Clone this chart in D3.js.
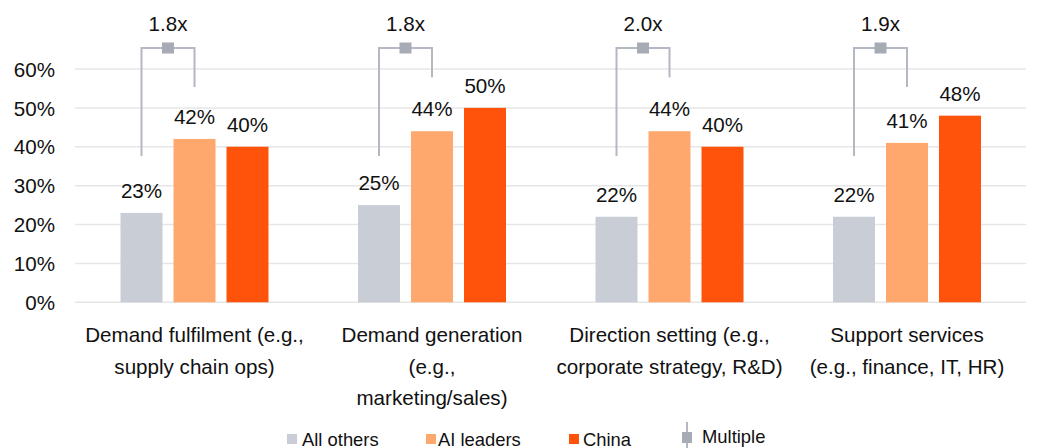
<!DOCTYPE html>
<html>
<head>
<meta charset="utf-8">
<script src="https://cdn.jsdelivr.net/npm/d3@7"></script>
<style>
  html, body { margin: 0; padding: 0; background: #fff; }
  svg { display: block; font-family: "Liberation Sans", Arial, sans-serif; }
</style>
</head>
<body>
<svg id="chart" width="1038" height="448"></svg>
<script>
// Share of respondents by function, per group
const categories = [
  ["Demand fulfilment (e.g.,", "supply chain ops)"],
  ["Demand generation", "(e.g.,", "marketing/sales)"],
  ["Direction setting (e.g.,", "corporate strategy, R&D)"],
  ["Support services", "(e.g., finance, IT, HR)"]
];
const series = ["All others", "AI leaders", "China"];
const allOthers = [23, 25, 22, 22];
const aiLeaders = [42, 44, 44, 41];
const china = [40, 50, 40, 48];
const multiples = ["1.8x", "1.8x", "2.0x", "1.9x"];
const yTicks = [0, 10, 20, 30, 40, 50, 60];

const colors = { "All others": "#c9ced6", "AI leaders": "#ffa86d", "China": "#ff520a" };
const bracketColor = "#b3b8c3";
const markerColor = "#a6abb6";
const textColor = "#111";
const fontSize = 20.6;

const svg = d3.select("#chart");
const keys = categories.map((c, i) => i);
const valuesBySeries = { "All others": allOthers, "AI leaders": aiLeaders, "China": china };

const x0 = d3.scaleBand().domain(keys).range([75.75, 1025.75]).padding(0);
const pIn = 11 / 53;
const x1 = d3.scaleBand().domain(series)
  .range([x0.bandwidth() / 2 - 79.5, x0.bandwidth() / 2 + 79.5])
  .paddingInner(pIn).paddingOuter(pIn / 2);
const y = d3.scaleLinear().domain([0, 60]).range([302.3, 69]);

// Gridlines
svg.append("g").selectAll("line").data(yTicks).join("line")
  .attr("x1", 75).attr("x2", 1026)
  .attr("y1", d => y(d)).attr("y2", d => y(d))
  .attr("stroke", "#e6e6e6").attr("stroke-width", 1.5);

// Y axis labels
const yAxis = d3.axisLeft(y).tickValues(yTicks).tickFormat(d => d + "%").tickSize(0).tickPadding(0);
const yg = svg.append("g").attr("transform", "translate(55,0)").call(yAxis);
yg.select(".domain").remove();
yg.selectAll("text").attr("font-size", fontSize).attr("fill", textColor)
  .attr("font-family", "Liberation Sans, Arial, sans-serif").attr("dy", "0.35em");

// Bars and value labels
const groups = svg.append("g").selectAll("g").data(keys).join("g")
  .attr("transform", d => `translate(${x0(d)},0)`);

groups.selectAll("rect").data(i => series.map(s => ({ s, v: valuesBySeries[s][i] }))).join("rect")
  .attr("x", d => x1(d.s)).attr("width", x1.bandwidth())
  .attr("y", d => y(d.v)).attr("height", d => y(0) - y(d.v))
  .attr("fill", d => colors[d.s]);

groups.selectAll("text.val").data(i => series.map(s => ({ s, v: valuesBySeries[s][i] }))).join("text")
  .attr("class", "val")
  .attr("x", d => x1(d.s) + x1.bandwidth() / 2)
  .attr("y", d => y(d.v) - 15)
  .attr("text-anchor", "middle").attr("font-size", fontSize).attr("fill", textColor)
  .text(d => d.v + "%");

// Multiple brackets linking "All others" to "AI leaders"
const bracketTop = 65.4, bracketLeftEnd = 37.6;
const bracketRightEnd = [55.4, 57.9, 57.9, 55.4];
groups.each(function (i) {
  const g = d3.select(this);
  const xl = x1("All others") + x1.bandwidth() / 2;
  const xr = x1("AI leaders") + x1.bandwidth() / 2;
  const path = d3.path();
  path.moveTo(xl, y(bracketLeftEnd));
  path.lineTo(xl, y(bracketTop));
  path.lineTo(xr, y(bracketTop));
  path.lineTo(xr, y(bracketRightEnd[i]));
  g.append("path").attr("d", path.toString())
    .attr("fill", "none").attr("stroke", bracketColor).attr("stroke-width", 2);
  const xm = (xl + xr) / 2;
  g.append("rect").attr("x", xm - 6).attr("y", y(bracketTop) - 5.5)
    .attr("width", 12).attr("height", 11).attr("fill", markerColor);
  g.append("text").attr("x", xm).attr("y", 30.7)
    .attr("text-anchor", "middle").attr("font-size", fontSize).attr("fill", textColor)
    .text(multiples[i]);
});

// Category labels
groups.append("text")
  .attr("text-anchor", "middle").attr("font-size", fontSize).attr("fill", textColor)
  .selectAll("tspan").data(i => categories[i]).join("tspan")
  .attr("x", x0.bandwidth() / 2)
  .attr("y", (d, j) => 342 + j * 31.5)
  .text(d => d);

// Legend
const legend = svg.append("g");
const legendItems = [
  { s: "All others", box: 287, tx: 302 },
  { s: "AI leaders", box: 426, tx: 438 },
  { s: "China", box: 569, tx: 583 }
];
legendItems.forEach(it => {
  legend.append("rect").attr("x", it.box).attr("y", 434).attr("width", 10).attr("height", 10)
    .attr("fill", colors[it.s]);
  legend.append("text").attr("x", it.tx).attr("y", 445.5).attr("font-size", 18.4)
    .attr("fill", textColor).text(it.s);
});
legend.append("line").attr("x1", 687).attr("x2", 687).attr("y1", 422).attr("y2", 450)
  .attr("stroke", bracketColor).attr("stroke-width", 2);
legend.append("rect").attr("x", 682).attr("y", 432).attr("width", 10).attr("height", 11)
  .attr("fill", markerColor);
legend.append("text").attr("x", 702).attr("y", 443).attr("font-size", 18.4)
  .attr("fill", textColor).text("Multiple");
</script>
</body>
</html>
